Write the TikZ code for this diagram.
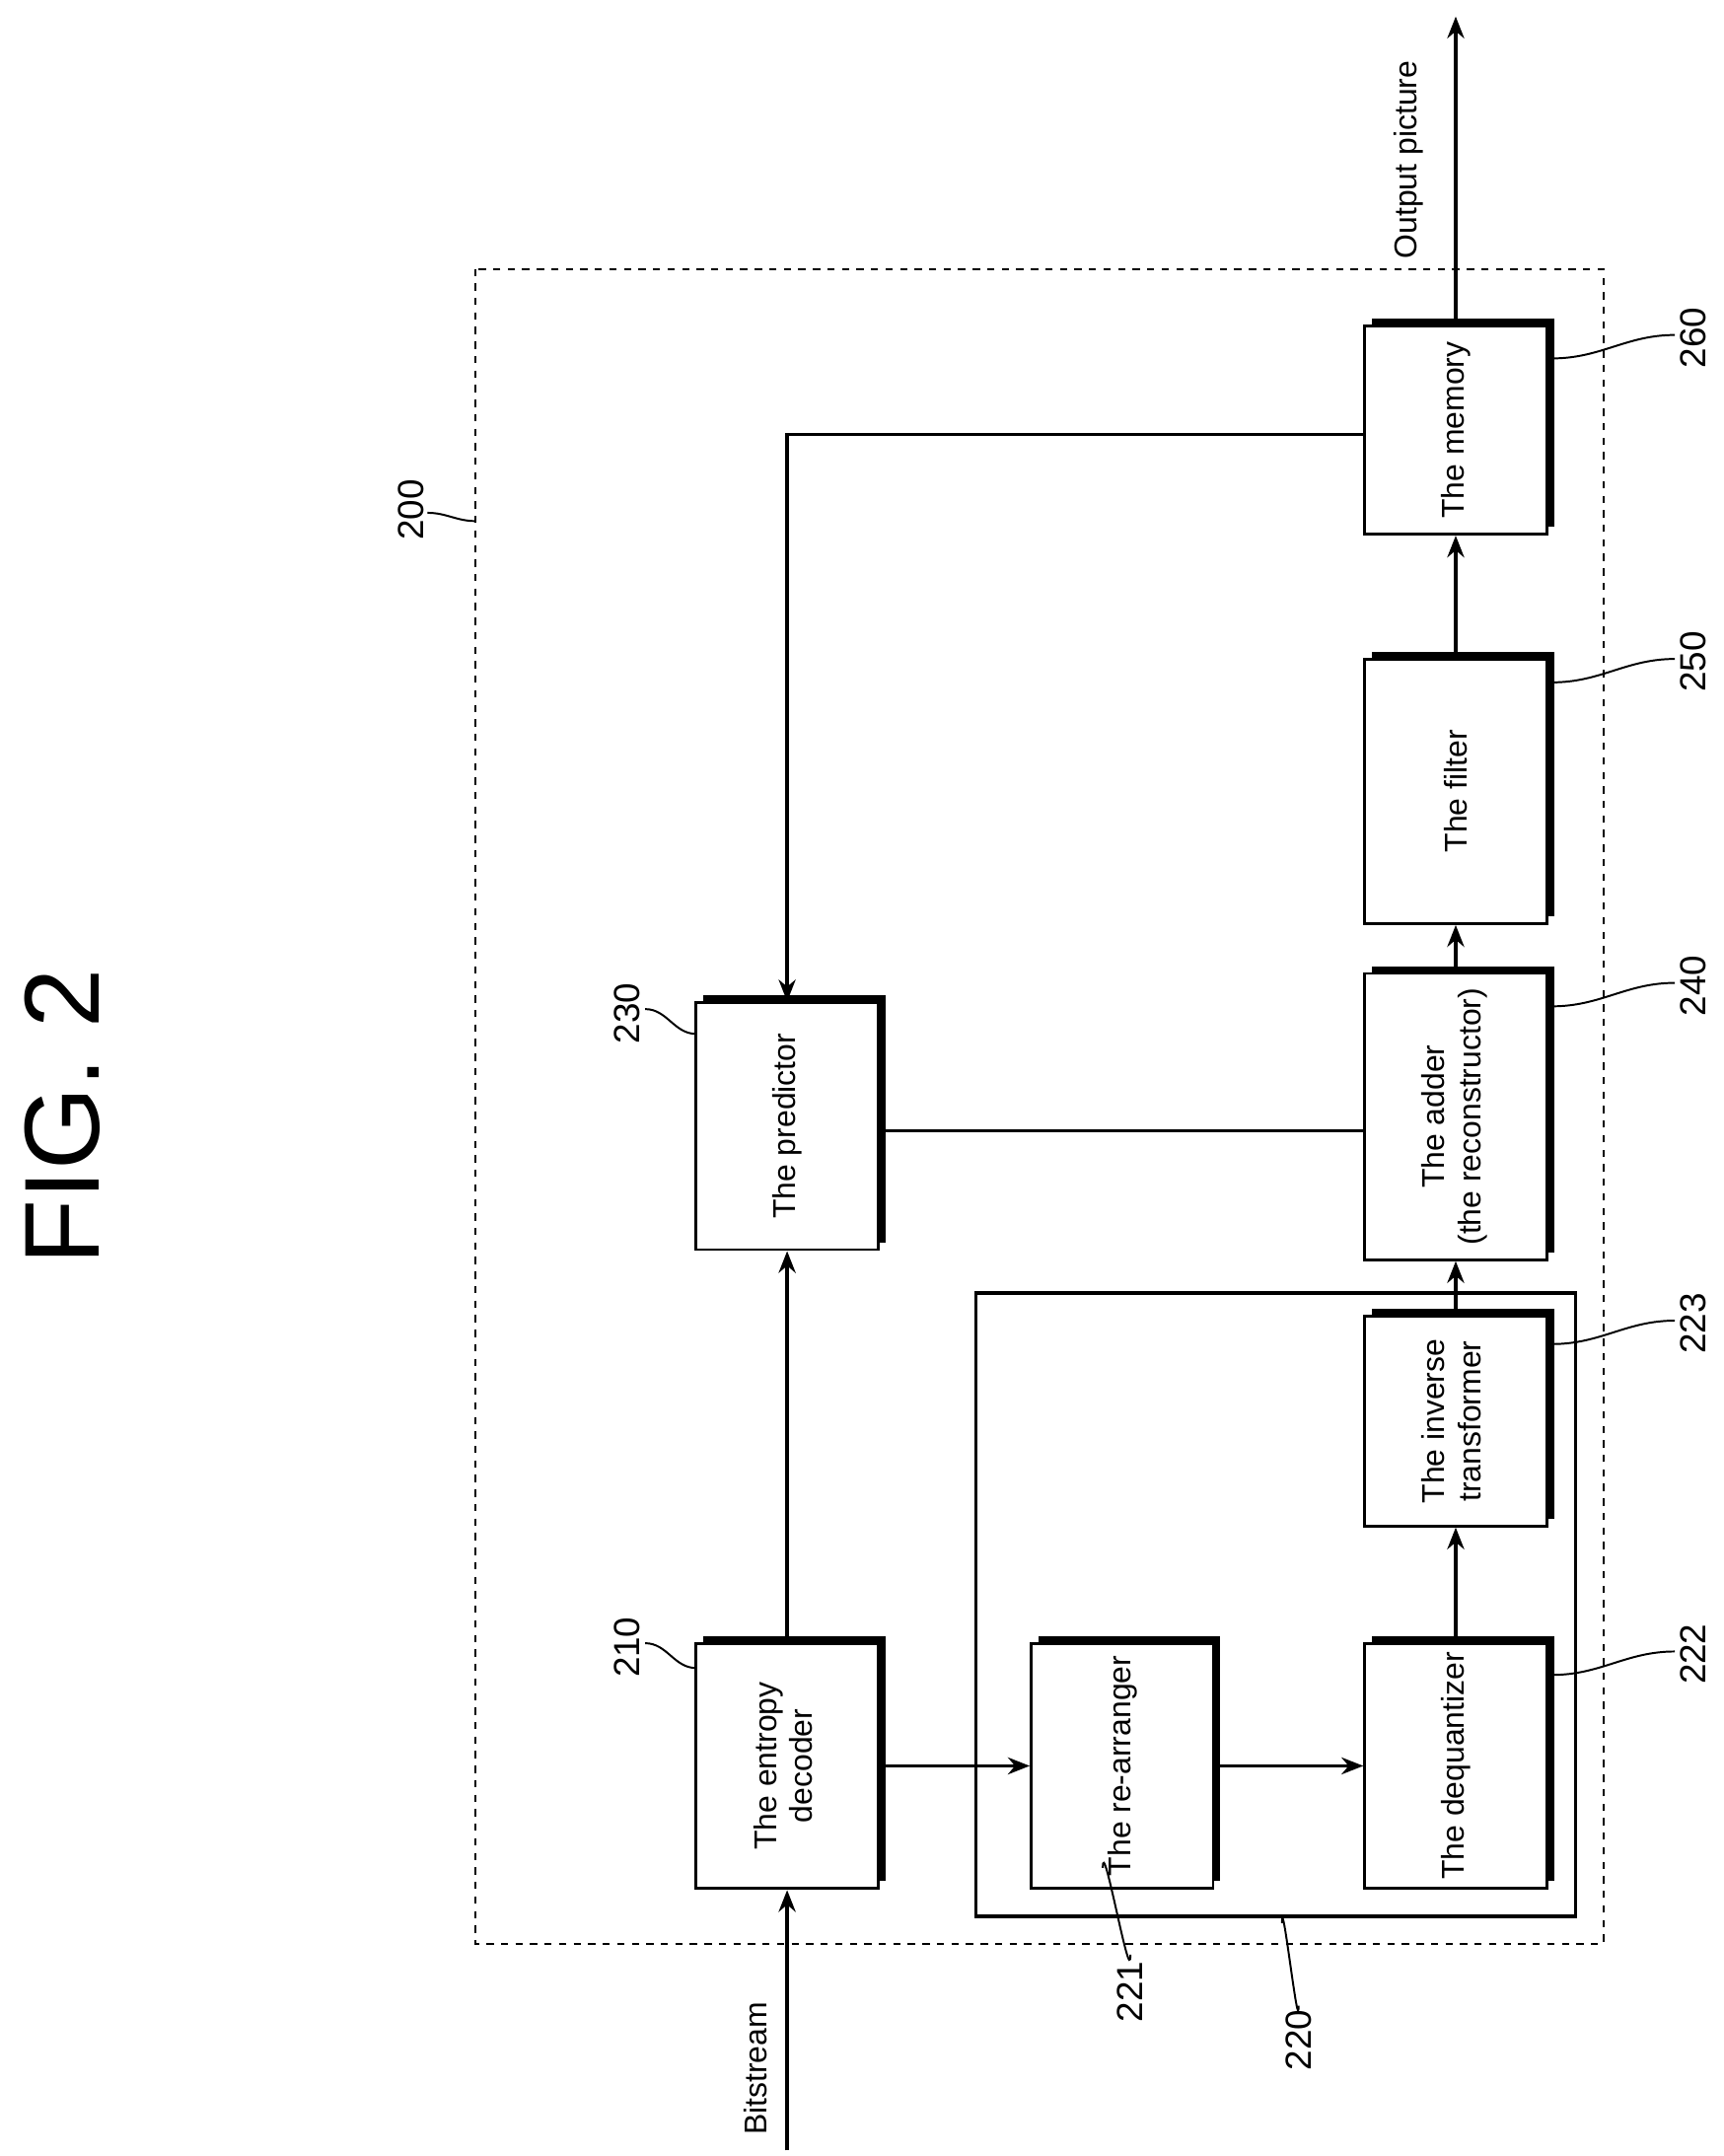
\documentclass[tikz,border=0pt]{standalone}
\usepackage{fontspec}
\setmainfont{Liberation Sans}
\usetikzlibrary{shadows,arrows.meta}
\begin{document}
\begin{tikzpicture}[x=0.02cm,y=-0.02cm,
 blk/.style={draw,line width=1.2pt,fill=white,minimum width=2.64cm,inner sep=0pt,
   general shadow={fill=black,shadow xshift=3pt,shadow yshift=3pt},font=\fontsize{13}{15}\selectfont},
 arr/.style={line width=1.4pt,-{Stealth[length=9pt,width=7pt]}},
 ln/.style={line width=1.2pt},
 lab/.style={font=\fontsize{15}{17}\selectfont,rotate=90},
 io/.style={font=\fontsize{13}{15}\selectfont,rotate=90},
 lead/.style={line width=0.8pt}]
\useasboundingbox (0,0) rectangle (1250,1564);
\node[rotate=90,font=\fontsize{44}{48}\selectfont] (fig) at (45,810) {FIG. 2};
\draw[dashed,line width=0.8pt] (345,195) rectangle (1163,1410);
\draw[line width=1.4pt] (708,938) rectangle (1143,1390);
\node[blk,minimum height=3.56cm] (b210) at (571,1281) {\rotatebox{90}{\begin{tabular}{c}The entropy\\decoder\end{tabular}}};
\node[blk,minimum height=3.58cm] (b230) at (571,817) {\rotatebox{90}{The predictor}};
\node[blk,minimum height=3.56cm] (b221) at (814,1281) {\rotatebox{90}{The re-arranger}};
\node[blk,minimum height=3.56cm] (b222) at (1056,1281) {\rotatebox{90}{The dequantizer}};
\node[blk,minimum height=3.04cm] (b223) at (1056,1031) {\rotatebox{90}{\begin{tabular}{c}The inverse\\transformer\end{tabular}}};
\node[blk,minimum height=3.88cm] (b240) at (1056,810) {\rotatebox{90}{\begin{tabular}{c}The adder\\(the reconstructor)\end{tabular}}};
\node[blk,minimum height=3.84cm] (b250) at (1056,574) {\rotatebox{90}{The filter}};
\node[blk,minimum height=3.02cm] (b260) at (1056,312) {\rotatebox{90}{The memory}};
% connectors
\coordinate (bs) at (571,1560);
\node[io,anchor=west] (tbs) at (548,1555) {Bitstream};
\draw[arr] (bs) -- (b210.south);
\draw[arr] (b210.north) -- (b230.south);
\draw[arr] (b210.east) -- (b221.west);
\draw[arr] (b221.east) -- (b222.west);
\draw[arr] (b222.north) -- (b223.south);
\draw[arr] (b223.north) -- (b240.south);
\coordinate (pc) at (600,820);
\draw[ln] (b230.east |- pc) -- (b240.west |- pc);
\draw[arr] (b240.north) -- (b250.south);
\draw[arr] (b250.north) -- (b260.south);
\coordinate (mc) at (571,315);
\draw[arr] (b260.west |- mc) -- (mc) -- (b230.north);
\coordinate (op) at (1056,12);
\draw[arr] (b260.north) -- (op);
\node[io,anchor=east] (top) at (1022,38) {Output picture};
% labels
\node[lab] (l200) at (298,370) {200};
\draw[lead] (310,372) to[out=0,in=180] (345,378);
\node[lab] (l210) at (455,1195) {210};
\draw[lead] (468,1192) to[out=0,in=180] (505,1210);
\node[lab] (l230) at (455,735) {230};
\draw[lead] (468,732) to[out=0,in=180] (505,750);
\node[lab] (l222) at (1228,1200) {222};
\draw[lead] (1215,1198) to[out=180,in=0] (1126,1215);
\node[lab] (l223) at (1228,960) {223};
\draw[lead] (1215,958) to[out=180,in=0] (1126,975);
\node[lab] (l240) at (1228,715) {240};
\draw[lead] (1215,713) to[out=180,in=0] (1126,730);
\node[lab] (l250) at (1228,480) {250};
\draw[lead] (1215,478) to[out=180,in=0] (1126,495);
\node[lab] (l260) at (1228,245) {260};
\draw[lead] (1215,243) to[out=180,in=0] (1126,260);
\node[lab] (l221) at (820,1445) {221};
\draw[lead] (820,1418) to[out=-90,in=90] (800,1355);
\node[lab] (l220) at (942,1480) {220};
\draw[lead] (942,1455) to[out=-90,in=90] (930,1395);
\end{tikzpicture}
\end{document}
